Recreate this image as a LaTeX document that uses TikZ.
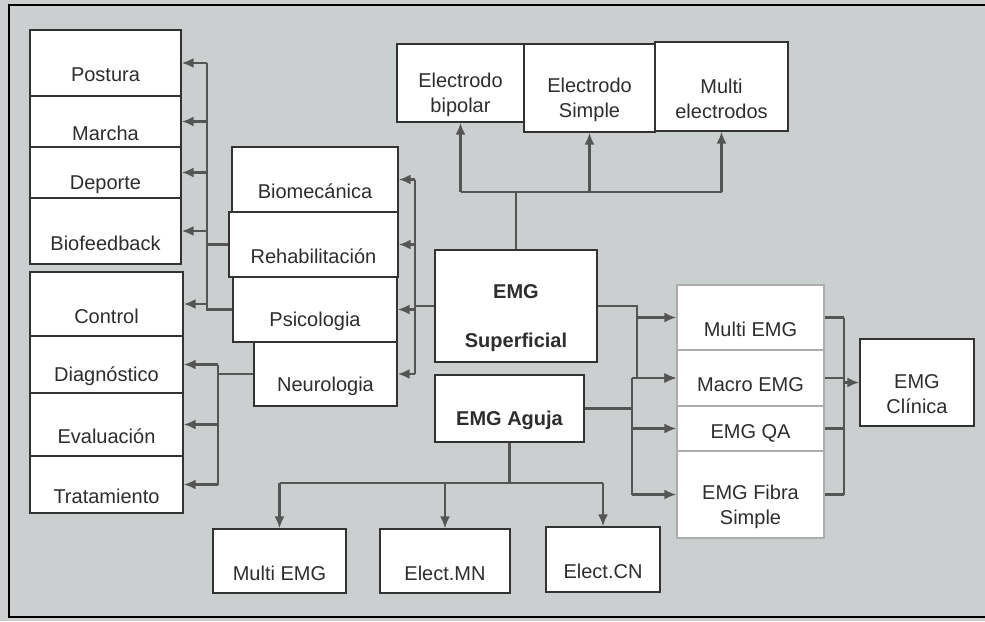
\documentclass[tikz,border=0pt]{standalone}
\usepackage{fontspec}
\setmainfont{Liberation Sans}
\usetikzlibrary{arrows.meta}
\definecolor{bgc}{RGB}{204,207,207}
\definecolor{ink}{RGB}{45,45,45}
\definecolor{wire}{RGB}{85,85,85}

\begin{document}
\begin{tikzpicture}[x=1pt,y=-1pt,
  frame/.style={draw=black!80, line width=1.3pt, fill=white, inner sep=0pt},
  pale/.style={frame, draw=gray!65},
  txt/.style={font=\fontsize{20}{25}\selectfont, text=ink, align=center, yshift=-12pt},
  txtb/.style={txt, font=\fontsize{20}{25}\selectfont\bfseries},
  box/.style={frame, label={[txt]center:#1}},
  palebox/.style={pale, label={[txt]center:#1}},
  line/.style={draw=wire, line width=2.2pt},
  arr/.style={line, -{Latex[length=12pt,width=10pt]}}]
\fill[bgc] (0,0) rectangle (985,621);
\useasboundingbox (0,0) rectangle (985,621);
\draw[line width=1.6pt] (990,5) -- (9,5) -- (9,617) -- (990,617);

\node[box=Postura, minimum width=151, minimum height=66] (postura) at (105.5,63) {};
\node[box=Marcha, minimum width=151, minimum height=51] (marcha) at (105.5,121.5) {};
\node[box=Deporte, minimum width=151, minimum height=51] (deporte) at (105.5,172.5) {};
\node[box=Biofeedback, minimum width=151, minimum height=66] (biofeed) at (105.5,231) {};
\node[box=Control, minimum width=153, minimum height=64] (control) at (106.5,304) {};
\node[box=Diagnóstico, minimum width=153, minimum height=57] (diag) at (106.5,364.5) {};
\node[box=Evaluación, minimum width=153, minimum height=63] (eval) at (106.5,424.5) {};
\node[box=Tratamiento, minimum width=153, minimum height=57] (trat) at (106.5,484.5) {};

\node[box=Biomecánica, minimum width=166, minimum height=65] (biomec) at (315,179.5) {};
\node[box=Rehabilitación, minimum width=169, minimum height=65] (rehab) at (313.5,244.5) {};
\node[box=Psicologia, minimum width=164, minimum height=65] (psico) at (315,309.5) {};
\node[box=Neurologia, minimum width=143, minimum height=64] (neuro) at (325.5,374) {};

\node[box={Electrodo\\bipolar}, minimum width=127, minimum height=78] (bipolar) at (460.5,83) {};
\node[box={Electrodo\\Simple}, minimum width=131, minimum height=88] (simple) at (589.5,88) {};
\node[box={Multi\\electrodos}, minimum width=133, minimum height=89] (multiel) at (721.5,86.5) {};

\node[frame, minimum width=162, minimum height=112, label={[txtb]center:EMG\\[24pt]Superficial}] (sup) at (516,306) {};
\node[frame, minimum width=149, minimum height=67, label={[txtb]center:EMG Aguja}] (aguja) at (509.5,408.5) {};

\node[palebox={Multi EMG}, minimum width=147, minimum height=65] (multiemg) at (750.5,317.5) {};
\node[pale, minimum width=147, minimum height=56, label={[txt,yshift=5pt]center:Macro EMG}] (macro) at (750.5,378) {};
\node[pale, minimum width=147, minimum height=45, label={[txt,yshift=7pt]center:EMG QA}] (qa) at (750.5,428.5) {};
\node[palebox={EMG Fibra\\Simple}, minimum width=147, minimum height=87] (fibra) at (750.5,494.5) {};
\node[box={EMG\\Clínica}, minimum width=114, minimum height=87] (clinica) at (917,382.5) {};

\node[box={Multi EMG}, minimum width=133, minimum height=64] (multib) at (279.5,561) {};
\node[box=Elect.MN, minimum width=130, minimum height=64] (elmn) at (445,561) {};
\node[box=Elect.CN, minimum width=114, minimum height=65] (elcn) at (603,559.5) {};

\coordinate (busL) at (207,0);
\coordinate (busN) at (218,0);
\coordinate (busM) at (415,0);
\coordinate (busA) at (632,0);
\coordinate (busS) at (637,0);
\coordinate (busR) at (844,0);
\coordinate (topy) at (0,192);
\coordinate (boty) at (0,483);

\draw[line] (rehab.west) -- (rehab.west -| busL);
\draw[line] (psico.west) -| (busL |- postura.east);
\foreach \n in {postura,marcha,deporte,biofeed,control}
  \draw[arr] (busL |- \n.east) -- (\n.east);

\draw[line] (neuro.west) -- (neuro.west -| busN);
\draw[line] (busN |- diag.east) -- (busN |- trat.east);
\foreach \n in {diag,eval,trat}
  \draw[arr] (busN |- \n.east) -- (\n.east);

\draw[line] (sup.west) -- (sup.west -| busM);
\draw[line] (busM |- biomec.east) -- (busM |- neuro.east);
\foreach \n in {biomec,rehab,psico,neuro}
  \draw[arr] (busM |- \n.east) -- (\n.east);

\draw[line] (sup.north) -- (sup.north |- topy);
\draw[line] (bipolar.south |- topy) -- (multiel.south |- topy);
\foreach \n in {bipolar,simple,multiel}
  \draw[arr] (\n.south |- topy) -- (\n.south);

\draw[line] (sup.east) -| (busS |- macro.west);
\foreach \n in {multiemg,macro}
  \draw[arr] (busS |- \n.west) -- (\n.west);
\draw[line] (aguja.east) -- (aguja.east -| busA);
\draw[line] (busA |- macro.west) -- (busA |- fibra.west);
\foreach \n in {macro,qa,fibra}
  \draw[arr] (busA |- \n.west) -- (\n.west);

\foreach \n in {multiemg,macro,qa,fibra}
  \draw[line] (\n.east) -- (\n.east -| busR);
\draw[line] (busR |- multiemg.east) -- (busR |- fibra.east);
\draw[arr] (busR |- clinica.west) -- (clinica.west);

\draw[line] (aguja.south) -- (aguja.south |- boty);
\draw[line] (multib.north |- boty) -- (elcn.north |- boty);
\foreach \n in {multib,elmn,elcn}
  \draw[arr] (\n.north |- boty) -- (\n.north);
\end{tikzpicture}
\end{document}
